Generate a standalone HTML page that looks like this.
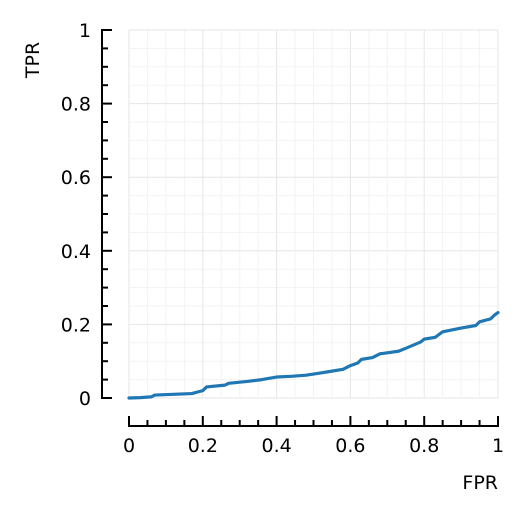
<!DOCTYPE html>
<html><head><meta charset="utf-8"><style>
body{margin:0;background:#fff}
svg{display:block;font-family:"DejaVu Sans","Liberation Sans",sans-serif}
</style></head><body>
<svg id="c" width="526" height="514"></svg>
<script>
const fpr=[0,0.03,0.06,0.07,0.12,0.17,0.2,0.21,0.26,0.27,0.32,0.36,0.4,0.44,0.48,0.52,0.55,0.58,0.6,0.62,0.63,0.66,0.68,0.73,0.75,0.79,0.8,0.83,0.85,0.9,0.94,0.95,0.98,0.99,1];
const tpr=[0,0.001,0.003,0.008,0.01,0.012,0.02,0.03,0.035,0.04,0.045,0.05,0.057,0.059,0.062,0.068,0.073,0.078,0.088,0.095,0.105,0.11,0.12,0.127,0.135,0.152,0.16,0.165,0.18,0.19,0.197,0.207,0.215,0.225,0.232];
const ticks=[0,0.2,0.4,0.6,0.8,1];
const tickLabels=["0","0.2","0.4","0.6","0.8","1"];
const NS="http://www.w3.org/2000/svg";
const svg=document.getElementById('c');
const X=v=>129+v*369, Y=v=>398-v*368;
function mk(t,a,p){const e=document.createElementNS(NS,t);for(const k in a)e.setAttribute(k,a[k]);(p||svg).appendChild(e);return e;}
const grid=mk('g',{});


for(let i=0;i<=20;i++){const v=i/20,maj=i%4==0;
 mk('line',{x1:X(v),x2:X(v),y1:Y(0),y2:Y(1),stroke:maj?'#e6e6e6':'#f3f3f3','stroke-width':1},grid);
 mk('line',{x1:X(0),x2:X(1),y1:Y(v),y2:Y(v),stroke:maj?'#e6e6e6':'#f3f3f3','stroke-width':1},grid);}
const ax=mk('g',{stroke:'#000','stroke-width':2});


mk('line',{x1:102,x2:102,y1:Y(1)-1,y2:Y(0)+1},ax);
mk('line',{x1:X(0)-1,x2:X(1)+1,y1:426,y2:426},ax);
for(let i=0;i<=20;i++){const v=i/20,maj=i%4==0,L=maj?10:6;
 mk('line',{x1:102,x2:102+L,y1:Y(v),y2:Y(v)},ax);
 mk('line',{x1:X(v),x2:X(v),y1:426,y2:426-L},ax);}
ticks.forEach((v,i)=>{
 const t=mk('text',{x:91,y:Y(v)+7,'text-anchor':'end','font-size':'19px',fill:'#000'});t.textContent=tickLabels[i];
 
 
 const u=mk('text',{x:X(v),y:452,'text-anchor':'middle','font-size':'19px',fill:'#000'});u.textContent=tickLabels[i];
 
 
});
const yl=mk('text',{x:0,y:0,transform:'translate(39,60) rotate(-90)','text-anchor':'middle','font-size':'19px'});yl.textContent='TPR';


const xl=mk('text',{x:498,y:489,'text-anchor':'end','font-size':'19px'});xl.textContent='FPR';


const line=mk('polyline',{points:fpr.map((v,i)=>X(v)+','+Y(tpr[i])).join(' '),fill:'none',stroke:'#1f77b4','stroke-width':3.2,'stroke-linejoin':'round','stroke-linecap':'round'});


</script>
</body></html>
